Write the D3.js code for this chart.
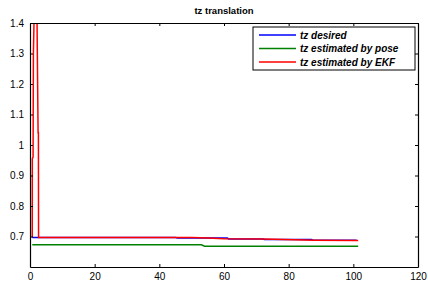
<!DOCTYPE html>
<html>
<head>
<meta charset="utf-8">
<script src="https://cdn.jsdelivr.net/npm/d3@7"></script>
<style>
  body { margin: 0; background: #fff; }
  text { font-family: "Liberation Sans", Arial, sans-serif; }
</style>
</head>
<body>
<script>
const w = 428, h = 283;
const margin = { left: 30, top: 23, right: 10, bottom: 16 };

const xTicks = [0, 20, 40, 60, 80, 100, 120];
const yTicks = [0.7, 0.8, 0.9, 1.0, 1.1, 1.2, 1.3, 1.4];

// tz desired
const desiredT = [0.7, 45, 45.5, 61, 61.5, 72, 72.5, 87, 87.5, 101];
const desiredV = [0.697, 0.697, 0.695, 0.695, 0.692, 0.692, 0.690, 0.690, 0.688, 0.688];

// tz estimated by pose
const poseT = [0.7, 53, 54, 101.5];
const poseV = [0.673, 0.673, 0.668, 0.668];

// tz estimated by EKF
const ekfT = [0.7, 0.72, 0.95, 1.05, 1.6, 2.0, 2.5, 2.6, 2.65, 50, 55, 60, 72, 88, 101.5];
const ekfV = [0.697, 0.955, 0.96, 1.30, 1.60, 1.60, 1.04, 1.04, 0.697, 0.697, 0.695, 0.693, 0.692, 0.688, 0.687];

const legendLabels = ["tz desired", "tz estimated by pose", "tz estimated by EKF"];
const colors = ["#0000ff", "#008000", "#ff0000"];

const svg = d3.select("body").append("svg").attr("width", w).attr("height", h);

const x = d3.scaleLinear().domain([0, 120]).range([margin.left, w - margin.right]);
const y = d3.scaleLinear().domain([0.6, 1.4]).range([h - margin.bottom, margin.top]);

svg.append("clipPath").attr("id", "plot")
  .append("rect")
    .attr("x", x(0)).attr("y", y(1.4))
    .attr("width", x(120) - x(0)).attr("height", y(0.6) - y(1.4));

const line = d3.line().x(d => x(d[0])).y(d => y(d[1]));
const series = [
  d3.zip(desiredT, desiredV),
  d3.zip(poseT, poseV),
  d3.zip(ekfT, ekfV)
];

const g = svg.append("g").attr("clip-path", "url(#plot)");
// green, then blue, then red on top
[1, 0, 2].forEach(i => {
  g.append("path")
    .datum(series[i])
    .attr("fill", "none")
    .attr("stroke", colors[i])
    .attr("stroke-width", 1.5)
    .attr("d", line);
});

// axes, matlab style with inward ticks on all sides
const fontSize = "10px";
const ax = [
  { a: d3.axisBottom(x).tickValues(xTicks).tickSizeInner(-3).tickSizeOuter(0).tickPadding(6), t: `translate(0,${y(0.6)})`, lab: true },
  { a: d3.axisTop(x).tickValues(xTicks).tickSizeInner(-3).tickSizeOuter(0), t: `translate(0,${y(1.4)})`, lab: false },
  { a: d3.axisLeft(y).tickValues(yTicks).tickSizeInner(-3).tickSizeOuter(0).tickPadding(6).tickFormat(d => d3.format("")(+d.toFixed(1))), t: `translate(${x(0)},0)`, lab: true },
  { a: d3.axisRight(y).tickValues(yTicks).tickSizeInner(-3).tickSizeOuter(0), t: `translate(${x(120)},0)`, lab: false }
];
ax.forEach(o => {
  const gg = svg.append("g").attr("transform", o.t).call(o.a);
  gg.select(".domain").attr("stroke", "#000").attr("stroke-width", 1.2);
  gg.selectAll(".tick line").attr("stroke", "#000");
  gg.selectAll(".tick text")
    .attr("fill", "#000")
    .style("font-size", fontSize)
    .style("display", o.lab ? null : "none");
});

// title
svg.append("text")
  .attr("x", (x(0) + x(120)) / 2 + 0)
  .attr("y", 14)
  .attr("text-anchor", "middle")
  .style("font-size", "9.5px")
  .style("font-weight", "bold")
  .text("tz translation");

// legend
const lg = svg.append("g");
lg.append("rect")
  .attr("x", 253).attr("y", 27)
  .attr("width", 162).attr("height", 43)
  .attr("fill", "#fff").attr("stroke", "#000").attr("stroke-width", 1);
legendLabels.forEach((d, i) => {
  const yy = 35 + i * 13.5;
  lg.append("line")
    .attr("x1", 259).attr("x2", 296)
    .attr("y1", yy).attr("y2", yy)
    .attr("stroke", colors[i]).attr("stroke-width", 1.5);
  lg.append("text")
    .attr("x", 300).attr("y", yy + 3.5)
    .style("font-size", "10px")
    .style("font-style", "italic")
    .style("font-weight", "bold")
    .text(d);
});
</script>
</body>
</html>
